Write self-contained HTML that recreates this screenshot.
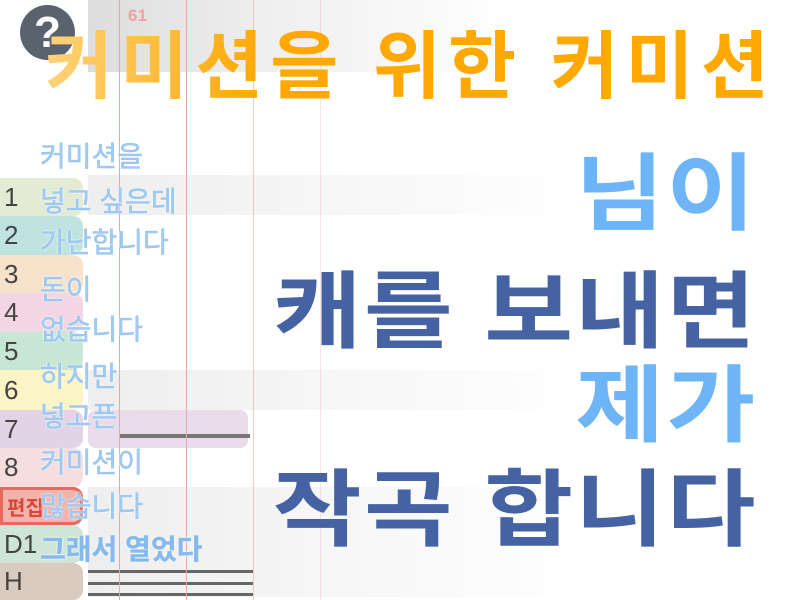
<!DOCTYPE html><html><head><meta charset="utf-8"><style>
body{margin:0;width:800px;height:600px;overflow:hidden;background:#fff;position:relative;font-family:"Liberation Sans","Noto Sans CJK KR","NanumGothic",sans-serif}
.a{position:absolute}
.row{position:absolute;left:0;width:83px;font-size:26px;color:#444;padding-left:4px;box-sizing:border-box;border-radius:0 10px 10px 0;display:flex;align-items:center}
.vl{position:absolute;top:0;width:1px;height:600px;background:#e9a7a7}
.lt{position:absolute;left:40px;font-size:28px;color:#a2cbf2;-webkit-text-stroke:0.5px #8fbfee;text-shadow:0 0 2px #fff,0 0 2px #fff;line-height:1}
.big{position:absolute;right:45px;font-weight:bold;font-size:84px;line-height:1;letter-spacing:2px;transform:scaleX(1.15);transform-origin:right center}
</style></head><body>
<div class="a" style="left:88px;top:0;width:420px;height:72px;background:linear-gradient(90deg,#ddd,#eee 40%,rgba(255,255,255,0))"></div>
<div class="a" style="left:88px;top:175px;width:500px;height:40px;background:linear-gradient(90deg,#eee,rgba(255,255,255,0))"></div>
<div class="a" style="left:88px;top:370px;width:500px;height:40px;background:linear-gradient(90deg,#eee,rgba(255,255,255,0))"></div>
<div class="a" style="left:88px;top:410px;width:160px;height:38px;background:#eadbea;border-radius:8px"></div>
<div class="a" style="left:88px;top:487px;width:500px;height:110px;background:linear-gradient(90deg,#eee,rgba(255,255,255,0))"></div>
<div class="a" style="left:120px;top:434px;width:130px;height:4px;background:#777"></div>
<div class="a" style="left:88px;top:570px;width:165px;height:3px;background:#666"></div>
<div class="a" style="left:88px;top:582px;width:165px;height:3px;background:#666"></div>
<div class="a" style="left:88px;top:593px;width:165px;height:3px;background:#666"></div>
<div class="vl" style="left:119px"></div><div class="vl" style="left:186px"></div><div class="vl" style="left:253px;opacity:.6"></div><div class="vl" style="left:320px;opacity:.3"></div>
<div class="a" style="left:128px;top:6px;font-size:17px;font-weight:bold;color:#f0a0a0">61</div>
<div class="row" style="top:178px;height:38px;background:#e3ebd5">1</div>
<div class="row" style="top:216px;height:39px;background:#bfe4df">2</div>
<div class="row" style="top:255px;height:38px;background:#f7e2cc">3</div>
<div class="row" style="top:293px;height:39px;background:#f3d6e2">4</div>
<div class="row" style="top:332px;height:38px;background:#c7e6d4">5</div>
<div class="row" style="top:370px;height:40px;background:#fbf4c4">6</div>
<div class="row" style="top:410px;height:38px;background:#e2d3e6">7</div>
<div class="row" style="top:448px;height:39px;background:#f7dede">8</div>
<div class="row" style="top:487px;height:38px;background:#f2b3aa;border:3px solid #e26a5e;color:#d9463a;font-weight:bold;font-size:20px">편집</div>
<div class="row" style="top:525px;height:38px;background:#cfe6d6">D1</div>
<div class="row" style="top:563px;height:37px;background:#dacbc0">H</div>
<div class="a" style="left:20px;top:5px;width:55px;height:55px;border-radius:50%;background:#5a626e;color:#fff;font-size:44px;font-weight:bold;text-align:center;line-height:55px">?</div>
<div class="a" style="left:45px;top:30px;font-size:74px;font-weight:bold;color:#ffa800;line-height:1;letter-spacing:7px;white-space:nowrap;background:linear-gradient(90deg,#ffd27a,#ffa800 30%);-webkit-background-clip:text;-webkit-text-fill-color:transparent">커미션을 위한 커미션</div>
<div class="lt" style="top:143px">커미션을</div>
<div class="lt" style="top:188px">넣고 싶은데</div>
<div class="lt" style="top:229px">가난합니다</div>
<div class="lt" style="top:276px">돈이</div>
<div class="lt" style="top:316px">없습니다</div>
<div class="lt" style="top:363px">하지만</div>
<div class="lt" style="top:403px">넣고픈</div>
<div class="lt" style="top:449px">커미션이</div>
<div class="lt" style="top:493px">많습니다</div>
<div class="lt" style="top:536px;color:#86b9ec;font-weight:bold">그래서 열었다</div>
<div class="big" style="top:152px;right:42px;color:#6db5f6">님이</div>
<div class="big" style="top:270px;right:42px;color:#4563a3">캐를 보내면</div>
<div class="big" style="top:364px;right:42px;color:#6db5f6">제가</div>
<div class="big" style="top:468px;right:42px;color:#4563a3">작곡 합니다</div>
</body></html>
